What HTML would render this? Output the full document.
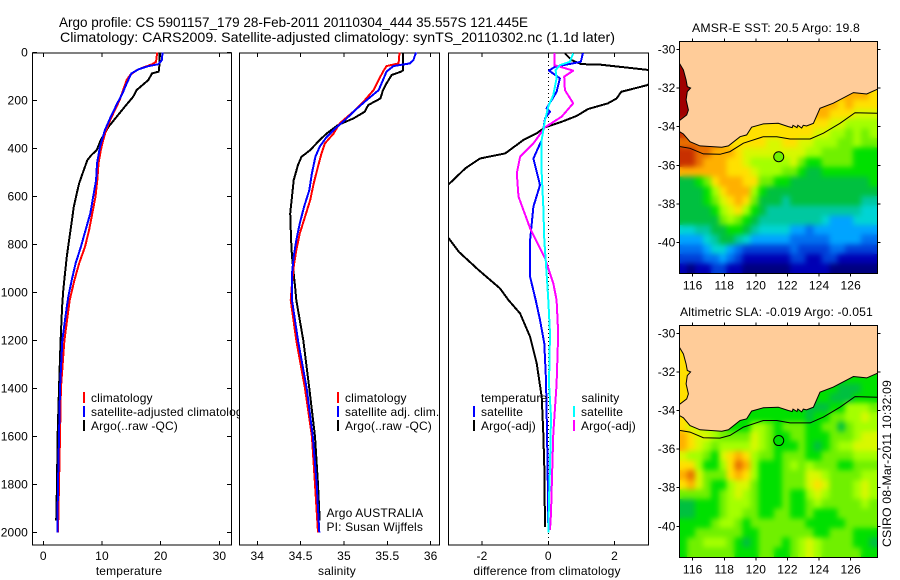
<!DOCTYPE html>
<html>
<head>
<meta charset="utf-8">
<title>Argo profile</title>
<style>
html,body{margin:0;padding:0;background:#fff;}
svg{display:block;}
text{font-family:"Liberation Sans",Arial,sans-serif;font-size:12px;fill:#000;letter-spacing:.15px;}
.title{font-size:14px;letter-spacing:0;}
</style>
</head>
<body>
<svg id="fig" xmlns="http://www.w3.org/2000/svg" width="900" height="580" viewBox="0 0 900 580">
  <defs>
    <clipPath id="clipP3"><rect x="449" y="53" width="199" height="492"/></clipPath>
    <clipPath id="clipM1"><rect x="679.5" y="41.5" width="198" height="232"/></clipPath>
    <clipPath id="clipM2"><rect x="679.5" y="325.5" width="198" height="232"/></clipPath>
    <filter id="smooth" x="-5%" y="-5%" width="110%" height="110%" color-interpolation-filters="sRGB"><feGaussianBlur stdDeviation="2.6"/></filter>
  </defs>
  <rect x="0" y="0" width="900" height="580" fill="#fff"/>
  <text class="title" x="59" y="27" textLength="469" lengthAdjust="spacingAndGlyphs">Argo profile: CS 5901157_179 28-Feb-2011 20110304_444 35.557S 121.445E</text>
  <text class="title" x="60" y="42" textLength="555" lengthAdjust="spacingAndGlyphs">Climatology: CARS2009. Satellite-adjusted climatology: synTS_20110302.nc (1.1d later)</text>

  <g id="p1"></g>
  <g id="p2"></g>
  <g id="p3"></g>
  <g id="m1"></g>
  <g id="m2"></g>

  <text x="776" y="32" text-anchor="middle" textLength="168" lengthAdjust="spacingAndGlyphs">AMSR-E SST: 20.5 Argo: 19.8</text>
  <text x="776.5" y="316" text-anchor="middle" textLength="193" lengthAdjust="spacingAndGlyphs">Altimetric SLA: -0.019 Argo: -0.051</text>
  <text transform="translate(891,547) rotate(-90)" textLength="167" lengthAdjust="spacingAndGlyphs">CSIRO 08-Mar-2011 10:32:09</text>
</svg>

<script>
// ---------- profile data ----------
const depthTicks = [0,200,400,600,800,1000,1200,1400,1600,1800,2000];
const tempTicks = [0,10,20,30];
const tempTickLabels = ['0','10','20','30'];
const salTicks = [34,34.5,35,35.5,36];
const salTickLabels = ['34','34.5','35','35.5','36'];
const diffTicks = [-2,0,2];
const diffTickLabels = ['-2','0','2'];

const tempArgoDepth = [0,49,80,88,115,157,185,226,268,310,365,407,428,449,504,546,587,643,712,782,851,921,990,1060,1200,1400,1600,1800,1950];
const tempArgoValue = [19.8,19.8,19.66,18.5,17.9,15.9,15.3,13.9,12.5,11.1,9.8,9.1,8.2,7.5,6.7,6.1,5.7,5.2,4.8,4.4,4.0,3.7,3.4,3.2,2.95,2.67,2.44,2.33,2.2];
const tempClimDepth = [0,39,50,60,74,94,115,157,199,240,282,324,365,407,463,532,601,671,740,810,879,949,1032,1200,1400,1600,1800,2000];
const tempClimValue = [19.4,19.2,18.5,17.3,15.9,14.8,14.2,13.6,13,12.2,11.4,10.7,10.2,9.8,9.4,9.2,8.9,8.35,7.8,7.1,6.1,5.3,4.5,3.6,3,2.84,2.67,2.5];
const tempSatDepth = [0,32,49,57,71,88,129,171,212,268,324,393,463,532,601,671,740,810,879,949,1018,1060,1200,1400,1600,1800,2000];
const tempSatValue = [20.3,20.2,19.6,17.9,16.2,15,14.2,13.5,12.6,11.5,10.5,9.66,9.15,9,8.5,8,7.2,6.4,5.5,4.83,4.26,4,3.24,2.84,2.67,2.5,2.39];

const salArgoDepth = [0,74,80,94,129,157,192,219,247,275,303,338,365,407,435,469,532,601,671,782,851,921,990,1032,1200,1400,1600,1800,1950];
const salArgoValue = [35.68,35.68,35.66,35.55,35.49,35.45,35.42,35.28,35.24,35.11,34.93,34.8,34.72,34.61,34.51,34.47,34.42,34.4,34.38,34.39,34.4,34.42,34.44,34.45,34.53,34.6,34.665,34.7,34.72];
const salClimDepth = [0,46,57,80,115,157,199,240,296,338,379,421,476,546,615,685,754,824,893,963,1032,1200,1400,1600,1800,2000];
const salClimValue = [35.64,35.63,35.49,35.45,35.4,35.34,35.24,35.13,34.95,34.88,34.78,34.74,34.7,34.65,34.61,34.55,34.49,34.45,34.42,34.4,34.385,34.45,34.55,34.63,34.665,34.7];
const salSatDepth = [0,32,46,57,80,115,157,199,240,282,310,352,393,435,504,574,643,712,782,851,921,990,1032,1200,1400,1600,1800,2000];
const salSatValue = [35.83,35.8,35.76,35.57,35.49,35.45,35.4,35.26,35.13,35.01,34.92,34.8,34.72,34.67,34.63,34.6,34.54,34.49,34.45,34.42,34.4,34.4,34.4,34.47,34.57,34.64,34.685,34.715];

const diffTempArgoDepth = [4,32,49,50,73,80,136,164,192,212,236,265,289,312,337,365,421,442,483,549,600,720,775,831,907,983,1032,1088,1185,1296,1435,1588,1727,1977];
const diffTempArgoValue = [0.5,0.7,1.0,1.5,3.0,3.5,3.0,2.2,2.06,1.8,1.2,0.85,0.4,-0.1,-0.35,-0.75,-1.3,-2.06,-2.5,-3,-3.4,-3.4,-3,-2.7,-2.1,-1.46,-1.2,-0.85,-0.55,-0.35,-0.2,-0.15,-0.12,-0.1];
const diffTempSatDepth = [0,39,60,76,108,164,199,233,247,275,365,442,553,643,782,935,1032,1115,1213,1365,1490,1727,1977];
const diffTempSatValue = [1.05,0.98,0.2,0.02,0.35,0.25,0.1,-0.05,0.05,-0.1,-0.2,-0.45,-0.25,-0.45,-0.55,-0.55,-0.38,-0.25,-0.12,-0.07,-0.05,-0.02,0];
const diffSalArgoDepth = [0,53,76,101,157,212,268,312,379,435,504,601,733,858,962,1032,1171,1380,1588,1727,1921,1990];
const diffSalArgoValue = [0.18,0.18,0.75,0.48,0.5,0.75,0.4,-0.1,-0.45,-0.85,-0.95,-0.9,-0.55,-0.1,0.15,0.25,0.3,0.25,0.15,0.12,0.08,0.05];
const diffSalSatDepth = [4,39,53,74,108,178,226,282,365,504,643,782,921,1032,1171,1380,1518,1727,1866,2000];
const diffSalSatValue = [0.75,0.65,0.35,0.22,0.25,0.15,0,-0.1,-0.2,-0.2,-0.15,-0.12,-0.05,0,0.05,0.02,0.08,0.05,0.02,0];

// ---------- map data (colour-level per 0.5 degree cell; L = under land) ----------
const L = -1;
const mapLonStart = 115.15;
const mapLatStart = -29.59;
const mapCellDeg = 0.5;
const sstGrid = [
[L,L,L,L,L,L,L,L,L,L,L,L,L,L,L,L,L,L,L,L,L,L,L,L,L],
[16,16,L,L,L,L,L,L,L,L,L,L,L,L,L,L,L,L,L,L,L,L,L,L,L],
[16,16,L,L,L,L,L,L,L,L,L,L,L,L,L,L,L,L,L,L,L,L,L,L,L],
[16,16,L,L,L,L,L,L,L,L,L,L,L,L,L,L,L,L,L,L,L,L,L,L,L],
[16,16,L,L,L,L,L,L,L,L,L,L,L,L,L,L,L,L,L,13,13,13,13,12,12],
[16,16,L,L,L,L,L,L,L,L,L,L,L,L,L,L,L,13,13,13,13,13,13,13,12],
[16,16,L,L,L,L,L,L,L,L,L,L,L,L,L,L,13,13,13,13,12,13,12,12,12],
[16,16,L,L,L,L,L,L,12,12,12,12,12,12,12,12,12,13,13,12,12,12,11,11,11],
[15,15,13,12,12,12,12,12,12,12,12,12,12,12,12,12,12,12,12,11,11,10,10,10,10],
[15,14,14,14,13,13,12,12,12,12,12,12,12,12,12,12,12,11,11,10,10,9,10,9,10],
[14,14,14,14,14,13,12,12,12,12,12,11,11,12,12,11,11,10,10,10,9,9,10,9,9],
[15,15,14,14,13,13,13,12,11,11,11,11,11,11,11,11,10,10,9,9,9,9,8,8,8],
[15,15,14,13,13,13,12,12,11,10,10,10,10,10,11,9,8,8,9,9,9,9,8,8,8],
[13,13,13,13,13,13,12,12,12,11,10,10,10,9,9,8,7,7,8,8,8,8,8,8,8],
[7,7,8,9,12,13,13,13,12,12,9,9,8,8,7,7,7,7,7,7,7,7,7,7,8],
[7,7,7,8,10,12,13,13,13,10,8,7,7,7,7,7,7,7,7,7,7,7,7,7,7],
[7,7,7,8,9,11,12,13,12,9,7,7,7,6,7,7,7,7,7,7,7,7,7,6,6],
[7,7,7,7,8,10,11,12,10,8,7,6,6,6,6,6,6,6,6,6,6,6,6,5,5],
[7,7,7,7,7,9,10,9,8,7,6,6,6,6,6,6,6,6,5,4,4,4,5,5,5],
[5,5,6,6,7,7,8,8,7,6,5,5,5,5,4,4,3,4,4,4,4,4,4,4,4],
[4,4,4,5,6,7,7,6,5,4,4,4,4,4,3,3,3,3,3,4,4,4,4,3,3],
[3,3,3,4,5,5,4,3,2,2,2,2,2,2,3,2,2,2,2,3,3,2,2,2,2],
[2,2,2,3,3,4,3,2,1,1,1,1,1,1,2,2,1,1,2,2,1,1,1,1,1],
[1,0,1,1,2,2,1,1,0,0,0,0,0,0,1,1,1,1,1,0,0,0,0,0,0]
];
const slaGrid = [
[L,L,L,L,L,L,L,L,L,L,L,L,L,L,L,L,L,L,L,L,L,L,L,L,L],
[12,12,L,L,L,L,L,L,L,L,L,L,L,L,L,L,L,L,L,L,L,L,L,L,L],
[12,12,L,L,L,L,L,L,L,L,L,L,L,L,L,L,L,L,L,L,L,L,L,L,L],
[12,12,L,L,L,L,L,L,L,L,L,L,L,L,L,L,L,L,L,L,L,L,L,L,L],
[12,12,L,L,L,L,L,L,L,L,L,L,L,L,L,L,L,L,L,8,8,8,8,8,8],
[12,12,L,L,L,L,L,L,L,L,L,L,L,L,L,L,L,8,8,8,8,8,8,8,8],
[12,12,L,L,L,L,L,L,L,L,L,L,L,L,L,L,8,8,8,8,7,7,7,8,8],
[12,12,L,L,L,L,L,L,8,8,8,8,8,8,8,8,8,8,8,7,7,7,8,8,8],
[12,12,11,10,9,8,8,8,8,8,8,8,8,8,8,8,7,7,7,8,8,10,10,10,9],
[12,12,11,11,10,9,8,8,8,8,8,8,8,8,8,8,7,8,8,9,9,10,10,11,10],
[12,11,11,10,10,9,8,8,8,10,10,9,8,9,9,9,8,8,9,9,7,9,10,10,10],
[13,12,11,11,10,9,9,9,9,11,10,9,8,8,9,9,8,8,8,9,9,9,10,11,11],
[13,12,11,10,9,10,10,10,10,11,10,9,8,8,8,9,8,7,8,9,10,10,11,11,11],
[11,10,10,9,8,11,12,13,12,10,9,9,8,9,9,9,8,8,9,9,9,9,10,10,10],
[12,12,10,8,8,10,12,14,13,10,8,8,8,9,10,9,10,9,9,9,8,8,9,9,9],
[13,14,11,9,9,9,12,13,12,10,8,8,8,9,9,9,11,11,10,9,9,9,9,10,10],
[12,13,11,9,8,8,10,11,11,9,8,8,8,9,9,9,11,12,11,9,9,9,10,11,10],
[9,9,9,9,8,9,10,11,10,9,8,8,8,9,8,8,10,11,10,9,9,9,10,11,10],
[7,7,8,8,8,9,10,10,10,9,8,8,8,9,8,8,9,10,9,9,9,9,9,10,9],
[7,7,8,8,8,9,10,10,9,9,8,8,9,9,8,8,9,8,8,8,9,9,9,9,9],
[8,8,8,8,9,10,10,9,8,9,9,9,9,9,9,9,8,8,8,8,8,9,9,9,9],
[8,8,9,9,9,9,9,9,8,8,9,9,9,9,9,9,9,8,8,9,9,9,8,8,8],
[8,9,9,10,10,10,9,8,7,8,9,9,9,8,9,10,11,10,9,9,9,9,8,8,7],
[8,9,9,9,9,9,9,8,8,8,9,9,8,8,9,10,11,10,9,9,9,9,9,8,8]
];
const coastLon = [115.16,115.41,115.58,115.66,115.87,115.66,115.58,115.73,115.62,115.16,115.16,115.41,115.83,116.46,117.84,118.26,119.0,119.42,119.73,120.47,121.42,122.05,122.3,122.35,122.6,122.65,122.9,123.0,123.2,123.64,124.06,124.9,126.17,127.01,127.68];
const coastLat = [-30.72,-31.07,-31.59,-31.93,-32.0,-32.19,-32.62,-33.14,-33.4,-33.69,-34.26,-34.38,-34.78,-35.0,-35.07,-35.0,-34.52,-34.43,-34.03,-33.86,-33.83,-34.0,-34.05,-33.93,-34.05,-33.93,-34.07,-33.93,-33.97,-33.83,-33.05,-32.79,-32.24,-32.31,-32.07];
const shelfLon = [115.16,115.83,116.68,117.73,118.36,119.21,120.47,121.32,122.16,123.43,124.27,125.32,126.27,127.68];
const shelfLat = [-35.03,-35.12,-35.41,-35.43,-35.29,-34.86,-34.52,-34.52,-34.64,-34.64,-34.34,-33.83,-33.28,-33.31];
const lonTicks = [116,118,120,122,124,126];
const latTicks = [-30,-32,-34,-36,-38,-40];
const floatLon = 121.445;
const floatLat = -35.557;
const floatSstLevel = 9;
const floatSlaLevel = 8;

// ---------- colour scale (style) ----------
const levelColours = ['#000080','#0000b4','#0040d8','#0070f0','#00a4ff','#00d4d4','#00c8a0','#00c040','#00e000','#70f000','#a4ff00','#d8f800','#ffe000','#ffb000','#e87000','#c83000','#a00000'];

// ---------- axis functions ----------
const SVGNS = 'http://www.w3.org/2000/svg';
const yDepth = d => 52.4 + 0.24 * d;
const xTemp = v => 43.3 + 5.87 * v;
const xSal = v => 257.3 + 86.7 * (v - 34);
const xDiff = v => 548.3 + 33.15 * v;
const xLon = v => 692.7 + 15.8 * (v - 116);
const yLat1 = v => 49.3 - 19.33 * (v + 30);
const yLat2 = v => 333.3 - 19.3 * (v + 30);

function make(parent, tag, attrs, name) {
  const el = document.createElementNS(SVGNS, tag);
  for (const k in attrs) el.setAttribute(k, attrs[k]);
  
  
  parent.appendChild(el);
  return el;
}
function seg(parent, x1, y1, x2, y2, name, colour, width) {
  return make(parent, 'line', {x1:x1, y1:y1, x2:x2, y2:y2, stroke:colour || '#000', 'stroke-width':width || 1, 'shape-rendering':'crispEdges'}, name);
}
function label(parent, str, x, y, anchor, name) {
  const t = make(parent, 'text', {x:x, y:y, 'text-anchor':anchor || 'start'}, name);
  t.textContent = str;
  return t;
}
function series(parent, xs, ys, fx, colour, name, clip) {
  const pts = xs.map((v, i) => fx(v).toFixed(1) + ',' + yDepth(ys[i]).toFixed(1)).join(' ');
  const attrs = {points:pts, fill:'none', stroke:colour, 'stroke-width':2, 'stroke-linejoin':'round', 'shape-rendering':'crispEdges'};
  if (clip) attrs['clip-path'] = 'url(#' + clip + ')';
  return make(parent, 'polyline', attrs, name);
}
function frame(parent, x, y, w, h, name) {
  make(parent, 'rect', {x:x, y:y, width:w, height:h, fill:'#fff', stroke:'#000', 'stroke-width':1.4, 'shape-rendering':'crispEdges'}, name);
}
function xticks(parent, ticks, labels, fx, prefix) {
  ticks.forEach((t, i) => {
    const x = fx(t);
    seg(parent, x, 53, x, 57, prefix + '-top-tick');
    seg(parent, x, 545, x, 541, prefix + '-bottom-tick');
    label(parent, labels[i], x, 560, 'middle', prefix + '-tick-label');
  });
}
function legendRow(parent, x, y, colour, str, name) {
  seg(parent, x, y - 6, x, y + 5, name + '-swatch', colour, 2);
  label(parent, str, x + 7, y + 4, 'start', name + '-label');
}

// ---------- temperature panel ----------
const p1 = document.getElementById('p1');
frame(p1, 32.5, 53, 199, 492, 'temperature-plot-area');
xticks(p1, tempTicks, tempTickLabels, xTemp, 'temperature-axis');
depthTicks.forEach(d => {
  const y = yDepth(d);
  seg(p1, 32.5, y, 37, y, 'depth-axis-left-tick');
  seg(p1, 231.5, y, 227, y, 'depth-axis-right-tick');
  label(p1, String(d), 28, y + 4, 'end', 'depth-axis-tick-label');
});
series(p1, tempArgoValue, tempArgoDepth, xTemp, '#000', 'temperature-argo-line');
series(p1, tempClimValue, tempClimDepth, xTemp, '#f00', 'temperature-climatology-line');
series(p1, tempSatValue, tempSatDepth, xTemp, '#00f', 'temperature-satellite-line');
legendRow(p1, 84, 398, '#f00', 'climatology', 'temperature-legend-climatology');
legendRow(p1, 84, 412, '#00f', 'satellite-adjusted climatology', 'temperature-legend-satellite');
legendRow(p1, 84, 426, '#000', 'Argo(..raw -QC)', 'temperature-legend-argo');
label(p1, 'temperature', 129, 575, 'middle', 'temperature-axis-title');

// ---------- salinity panel ----------
const p2 = document.getElementById('p2');
frame(p2, 239.5, 53, 200, 492, 'salinity-plot-area');
xticks(p2, salTicks, salTickLabels, xSal, 'salinity-axis');
series(p2, salArgoValue, salArgoDepth, xSal, '#000', 'salinity-argo-line');
series(p2, salClimValue, salClimDepth, xSal, '#f00', 'salinity-climatology-line');
series(p2, salSatValue, salSatDepth, xSal, '#00f', 'salinity-satellite-line');
legendRow(p2, 338, 398, '#f00', 'climatology', 'salinity-legend-climatology');
legendRow(p2, 338, 412, '#00f', 'satellite adj. clim.', 'salinity-legend-satellite');
legendRow(p2, 338, 426, '#000', 'Argo(..raw -QC)', 'salinity-legend-argo');
label(p2, 'Argo AUSTRALIA', 326.5, 517, 'start', 'argo-australia-note');
label(p2, 'PI: Susan Wijffels', 326.5, 531, 'start', 'principal-investigator-note');
label(p2, 'salinity', 337, 575, 'middle', 'salinity-axis-title');

// ---------- difference panel ----------
const p3 = document.getElementById('p3');
frame(p3, 448.5, 53, 200, 492, 'difference-plot-area');
xticks(p3, diffTicks, diffTickLabels, xDiff, 'difference-axis');
make(p3, 'line', {x1:xDiff(0), y1:53, x2:xDiff(0), y2:545, stroke:'#000', 'stroke-width':1, 'stroke-dasharray':'1 3', 'shape-rendering':'crispEdges'}, 'zero-reference-line');
series(p3, diffTempArgoValue, diffTempArgoDepth, xDiff, '#000', 'difference-temperature-argo-line', 'clipP3');
series(p3, diffTempSatValue, diffTempSatDepth, xDiff, '#00f', 'difference-temperature-satellite-line', 'clipP3');
series(p3, diffSalArgoValue, diffSalArgoDepth, xDiff, '#f0f', 'difference-salinity-argo-line', 'clipP3');
series(p3, diffSalSatValue, diffSalSatDepth, xDiff, '#0ff', 'difference-salinity-satellite-line', 'clipP3');
label(p3, 'temperature', 481, 402, 'start', 'difference-legend-temperature-heading');
legendRow(p3, 474, 412, '#00f', 'satellite', 'difference-legend-temperature-satellite');
legendRow(p3, 474, 426, '#000', 'Argo(-adj)', 'difference-legend-temperature-argo');
label(p3, 'salinity', 581.5, 402, 'start', 'difference-legend-salinity-heading');
legendRow(p3, 574, 412, '#0ff', 'satellite', 'difference-legend-salinity-satellite');
legendRow(p3, 574, 426, '#f0f', 'Argo(-adj)', 'difference-legend-salinity-argo');
label(p3, 'difference from climatology', 547, 575, 'middle', 'difference-axis-title');

// ---------- maps ----------
function drawMap(id, grid, yLat, top, bottom, clip, floatLevel, prefix) {
  const g = document.getElementById(id);
  const left = 679.5, right = 877.5;
  make(g, 'rect', {x:left, y:top, width:right - left, height:bottom - top, fill:'#fff'}, prefix + '-plot-area');
  const cells = make(g, 'g', {id:prefix + '-cells', 'clip-path':'url(#' + clip + ')'}, prefix + '-cells');
  grid.forEach((row, r) => {
    row.forEach((val, c) => {
      if (val < 0) return;
      const x0 = xLon(mapLonStart + c * mapCellDeg), x1 = xLon(mapLonStart + (c + 1) * mapCellDeg);
      const y0 = yLat(mapLatStart - r * mapCellDeg), y1 = yLat(mapLatStart - (r + 1) * mapCellDeg);
      make(cells, 'rect', {x:x0.toFixed(1), y:y0.toFixed(1), width:(x1 - x0 + 0.3).toFixed(1), height:(y1 - y0 + 0.3).toFixed(1), fill:levelColours[val], 'shape-rendering':'crispEdges'}, prefix + '-cell');
    });
  });
  const smoothWrap = make(g, 'g', {'clip-path':'url(#' + clip + ')'}, prefix + '-smoothing-clip');
  make(smoothWrap, 'use', {href:'#' + prefix + '-cells', filter:'url(#smooth)'}, prefix + '-smoothed-cells');
  const landPts = [[xLon(115.15), top]];
  coastLon.forEach((v, i) => landPts.push([xLon(v), yLat(coastLat[i])]));
  landPts.push([right, yLat(coastLat[coastLat.length - 1])], [right, top]);
  make(g, 'polygon', {points:landPts.map(p => p[0].toFixed(1) + ',' + p[1].toFixed(1)).join(' '), fill:'#ffcc99', stroke:'none', 'clip-path':'url(#' + clip + ')'}, prefix + '-land');
  const coastPts = coastLon.map((v, i) => xLon(v).toFixed(1) + ',' + yLat(coastLat[i]).toFixed(1)).join(' ');
  make(g, 'polyline', {points:coastPts, fill:'none', stroke:'#000', 'stroke-width':1, 'clip-path':'url(#' + clip + ')'}, prefix + '-coastline');
  const shelfPts = shelfLon.map((v, i) => xLon(v).toFixed(1) + ',' + yLat(shelfLat[i]).toFixed(1)).join(' ');
  make(g, 'polyline', {points:shelfPts, fill:'none', stroke:'#000', 'stroke-width':1, 'clip-path':'url(#' + clip + ')'}, prefix + '-shelf-contour');
  make(g, 'circle', {cx:xLon(floatLon), cy:yLat(floatLat), r:5, fill:levelColours[floatLevel], stroke:'#000', 'stroke-width':1}, prefix + '-float-marker');
  make(g, 'rect', {x:left, y:top, width:right - left, height:bottom - top, fill:'none', stroke:'#000', 'stroke-width':1, 'shape-rendering':'crispEdges'}, prefix + '-frame');
  lonTicks.forEach(t => {
    const x = xLon(t);
    seg(g, x, top, x, top - 3, prefix + '-lon-top-tick');
    seg(g, x, bottom, x, bottom + 3, prefix + '-lon-bottom-tick');
    label(g, String(t), x, bottom + 16, 'middle', prefix + '-lon-tick-label');
  });
  latTicks.forEach(t => {
    const y = yLat(t);
    seg(g, left, y, left - 3, y, prefix + '-lat-left-tick');
    seg(g, right, y, right + 3, y, prefix + '-lat-right-tick');
    label(g, String(t), left - 4, y + 4, 'end', prefix + '-lat-tick-label');
  });
}
drawMap('m1', sstGrid, yLat1, 41.5, 273.5, 'clipM1', floatSstLevel, 'sst-map');
drawMap('m2', slaGrid, yLat2, 325.5, 557.5, 'clipM2', floatSlaLevel, 'sla-map');
</script>
</body>
</html>
